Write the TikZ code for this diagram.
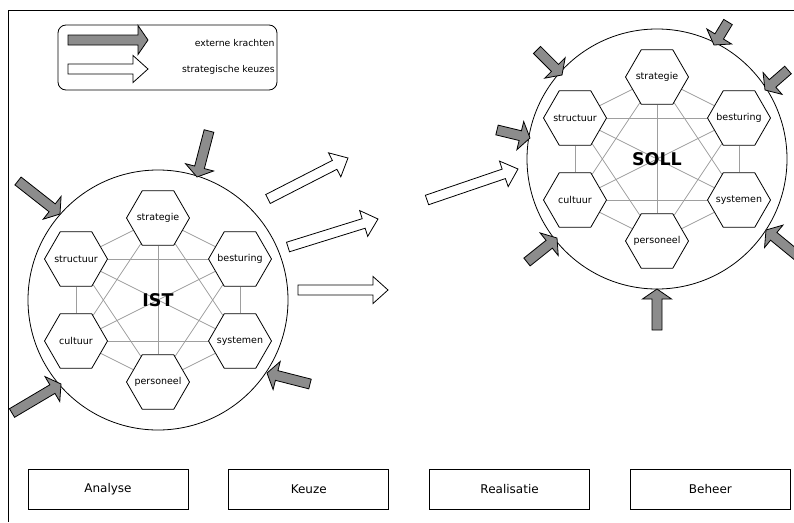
\documentclass[tikz,border=0pt]{standalone}
\usepackage{fontspec}
\setmainfont{DejaVu Sans}
\usetikzlibrary{positioning,calc,shapes.geometric,backgrounds}

\definecolor{krachtgrijs}{gray}{0.55}
\definecolor{netgrijs}{gray}{0.62}

\tikzset{
  zeshoek/.style={draw, fill=white, regular polygon, regular polygon sides=6,
    minimum size=63pt, inner sep=0pt},
  hoektekst/.style={font=\fontsize{9.5}{11}\selectfont, inner sep=0pt},
  kring/.style={draw, circle, minimum size=260pt, inner sep=0pt,
    font=\fontsize{17.5}{20}\selectfont\bfseries},
  netlijn/.style={netgrijs, line width=0.8pt},
  fase/.style={draw, minimum width=160pt, minimum height=40pt,
    font=\fontsize{12}{14}\selectfont},
  legtekst/.style={anchor=east, inner sep=0pt, font=\fontsize{9.3}{11}\selectfont},
  extern/.style={draw, fill=krachtgrijs, line join=miter},
  keuzevorm/.style={draw, fill=white, line join=miter},
}

% blokpijl: stijl, staart, punt, lengte kop, halve breedte kop
\newcommand{\blokpijl}[5]{
  \coordinate (kop) at ($(#3)!#4!(#2)$);
  \draw[#1] ($(#2)!5pt!90:(#3)$) -- ($(kop)!5pt!90:(#3)$) -- ($(kop)!#5!90:(#3)$)
    -- (#3) -- ($(kop)!#5!-90:(#3)$) -- ($(kop)!5pt!-90:(#3)$) -- ($(#2)!5pt!-90:(#3)$) -- cycle;
}
\newcommand{\kracht}[2]{\blokpijl{extern}{#1}{#2}{10pt}{14.5pt}}
\newcommand{\keuzepijl}[2]{\blokpijl{keuzevorm}{#1}{#2}{15pt}{13.5pt}}

\begin{document}
\begin{tikzpicture}[x=1pt, y=-1pt, line width=0.8pt]
  \useasboundingbox (0,0) rectangle (794,522);
  % kader
  \draw[line width=1pt] (794,10) -- (8,10) -- (8,522);

  % legenda
  \draw[rounded corners=8pt] (58,25) rectangle (277,90);
  \kracht{68,40}{148,40}
  \keuzepijl{68,69}{148,69}
  \node[legtekst] (legkracht) at (275,43) {externe krachten};
  \node[legtekst] (legkeuze) at (275,70) {strategische keuzes};

  % IST en SOLL
  \foreach \naam/\cx/\cy in {IST/158/300, SOLL/657/159} {
    \node[kring] (\naam) at (\cx,\cy) {\naam};
    \foreach \deel/\dx/\dy in {strategie/0/-82, besturing/82/-41, systemen/82/41,
                               personeel/0/82, cultuur/-82/41, structuur/-82/-41} {
      \node[zeshoek, label={[hoektekst]center:\deel}] (\naam-\deel) at ($(\naam)+(\dx,\dy)$) {};
    }
    % alle onderdelen met elkaar verbonden
    \begin{scope}[on background layer]
      \foreach \a [count=\i] in {strategie,besturing,systemen,personeel,cultuur,structuur} {
        \foreach \b [count=\j] in {strategie,besturing,systemen,personeel,cultuur,structuur} {
          \ifnum\j>\i \draw[netlijn] (\naam-\a) -- (\naam-\b); \fi
        }
      }
    \end{scope}
  }

  % externe krachten
  \kracht{209,131}{197,177}
  \kracht{18,181}{60,214}
  \kracht{12,413}{61,384}
  \kracht{310,384}{267,373}
  \kracht{728,22}{714,45}
  \kracht{788,70}{765,90}
  \kracht{537,50}{562,75}
  \kracht{497,130}{530,138}
  \kracht{527,262}{557,238}
  \kracht{805,262}{766,230}
  \kracht{657,330}{657,289}

  % strategische keuzes
  \keuzepijl{268,199}{348,158}
  \keuzepijl{288,247}{378,219}
  \keuzepijl{298,290}{388,290}
  \keuzepijl{427,200}{518,169}

  % fasen
  \node[fase] (analyse) at (108,489) {Analyse};
  \node[fase, right=40pt of analyse] (keuze) {Keuze};
  \node[fase, right=40pt of keuze] (realisatie) {Realisatie};
  \node[fase, right=40pt of realisatie] (beheer) {Beheer};
\end{tikzpicture}
\end{document}
